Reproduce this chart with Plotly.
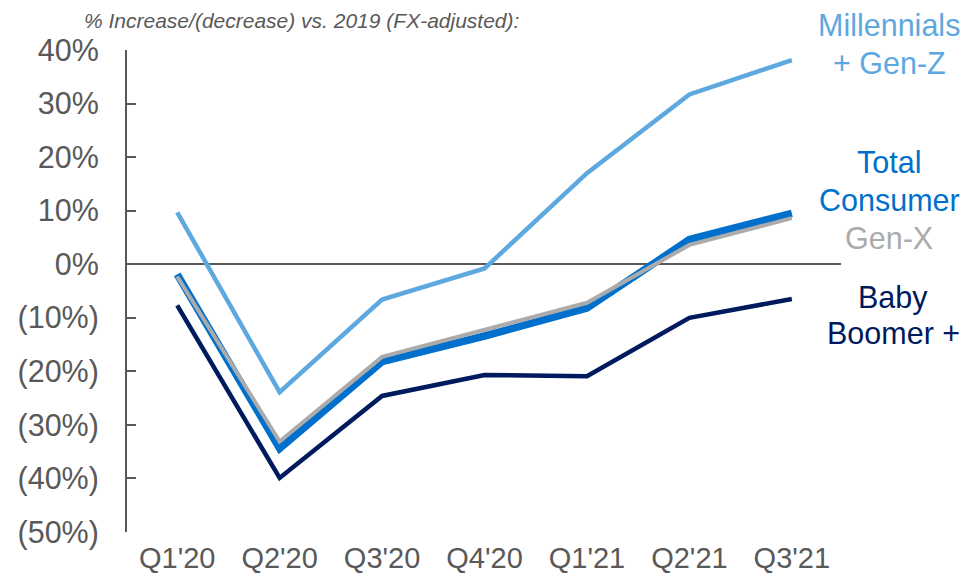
import plotly.graph_objects as go

quarters = ["Q1'20", "Q2'20", "Q3'20", "Q4'20", "Q1'21", "Q2'21", "Q3'21"]
millennials = [0.097, -0.239, -0.066, -0.008, 0.170, 0.317, 0.381]
total_consumer = [-0.019, -0.344, -0.182, -0.134, -0.082, 0.046, 0.095]
gen_x = [-0.023, -0.331, -0.173, -0.123, -0.072, 0.036, 0.086]
baby_boomer = [-0.077, -0.399, -0.246, -0.207, -0.209, -0.100, -0.065]

y_tickvals = [0.4, 0.3, 0.2, 0.1, 0.0, -0.1, -0.2, -0.3, -0.4, -0.5]
y_ticktext = ["40%", "30%", "20%", "10%", "0%", "(10%)", "(20%)", "(30%)", "(40%)", "(50%)"]

C_MIL = "#5EA8E0"
C_TOT = "#0070CC"
C_GX = "#ABABAB"
C_BB = "#001A5E"
GRAY = "#595959"
FONT = "Arial, Liberation Sans, sans-serif"

fig = go.Figure()
fig.add_trace(go.Scatter(x=quarters, y=millennials, mode="lines",
                         line=dict(color=C_MIL, width=4.5), name="Millennials + Gen-Z"))
fig.add_trace(go.Scatter(x=quarters, y=baby_boomer, mode="lines",
                         line=dict(color=C_BB, width=4.5), name="Baby Boomer +"))
fig.add_trace(go.Scatter(x=quarters, y=total_consumer, mode="lines",
                         line=dict(color=C_TOT, width=7.5), name="Total Consumer"))
fig.add_trace(go.Scatter(x=quarters, y=gen_x, mode="lines",
                         line=dict(color=C_GX, width=4), name="Gen-X"))

fig.update_layout(
    width=963, height=576,
    margin=dict(l=119, r=130, t=42, b=52, autoexpand=False),
    plot_bgcolor="white", paper_bgcolor="white",
    showlegend=False,
    font=dict(family=FONT, color=GRAY),
)
fig.update_xaxes(
    type="category", range=[-0.49, 6.48], automargin=False,
    showgrid=False, showline=False, zeroline=False,
    ticks="", tickfont=dict(size=29, color=GRAY, family=FONT),
    ticklabelstandoff=6,
)
fig.update_yaxes(
    range=[-0.5, 0.4], automargin=False,
    tickvals=y_tickvals, ticktext=y_ticktext,
    showgrid=False, showline=True, linecolor=GRAY, linewidth=2,
    ticks="inside", ticklen=9, tickwidth=2, tickcolor=GRAY,
    zeroline=True, zerolinecolor=GRAY, zerolinewidth=2,
    tickfont=dict(size=30.5, color=GRAY, family=FONT),
    ticklabelstandoff=20,
)

def label(text, x, y, color):
    fig.add_annotation(text=text, x=x, y=y, xref="paper", yref="paper",
                       xanchor="center", yanchor="middle", showarrow=False,
                       font=dict(size=30.5, color=color, family=FONT))

def px_x(x):
    return (x - 127) / 714

def px_y(y):
    return (532 - y) / 482

label("Millennials", px_x(889), px_y(25), C_MIL)
label("+ Gen-Z", px_x(889), px_y(63), C_MIL)
label("Total", px_x(889), px_y(162), C_TOT)
label("Consumer", px_x(889), px_y(200), C_TOT)
label("Gen-X", px_x(889), px_y(238), C_GX)
label("Baby", px_x(893), px_y(297), C_BB)
label("Boomer +", px_x(893), px_y(333), C_BB)

fig.add_annotation(text="<i>% Increase/(decrease) vs. 2019 (FX-adjusted):</i>",
                   x=px_x(82), y=px_y(20), xref="paper", yref="paper",
                   xanchor="left", yanchor="middle", showarrow=False,
                   font=dict(size=21, color=GRAY, family=FONT))

fig.write_html("out.html")
